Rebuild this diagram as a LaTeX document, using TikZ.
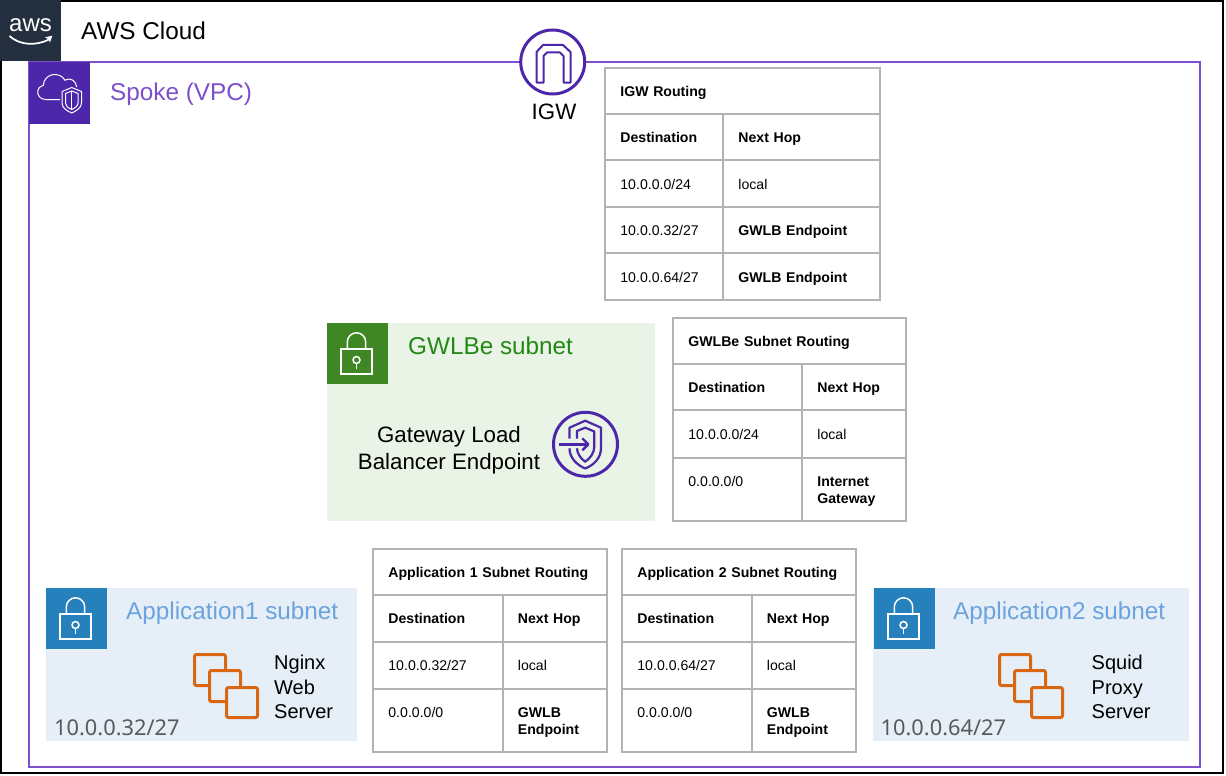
\documentclass[tikz,border=0pt]{standalone}
\usepackage{fontspec}
\setmainfont{Liberation Sans}
\newfontfamily\cidrfont{Noto Sans}
\definecolor{awsdark}{HTML}{232F3E}
\definecolor{vpcpurple}{HTML}{4D27AA}
\definecolor{vpcline}{HTML}{7D4FCB}
\definecolor{gwlbgreen}{HTML}{3F8624}
\definecolor{gwlbtext}{HTML}{248814}
\definecolor{gwlbfill}{HTML}{E9F3E6}
\definecolor{appblue}{HTML}{2580BB}
\definecolor{apptext}{HTML}{6CA3DD}
\definecolor{appfill}{HTML}{E6EFF8}
\definecolor{ec2orange}{HTML}{D86613}
\definecolor{cidrgray}{HTML}{5A5A5A}
\definecolor{tableline}{HTML}{B3B3B3}
\tikzset{
  box/.style 2 args={anchor=north west, outer sep=0pt, inner sep=0pt, minimum width=#1, minimum height=#2},
  cell/.style 2 args={draw=tableline, line width=2pt, anchor=north west, outer sep=0pt, inner xsep=15pt, inner ysep=0pt, text width=#1, minimum height=#2, align=left, text height=11pt, text depth=0pt, xshift=.4pt, font=\fontsize{14.1}{17}\selectfont},
  cellbold/.style={font=\fontsize{14.1}{17}\selectfont\bfseries},
  lastrow/.style={text depth=17pt},
  title/.style={anchor=base west, inner sep=0pt, font=\fontsize{24.3}{28}\selectfont},
  label/.style={anchor=base, inner sep=0pt, font=\fontsize{22.3}{26}\selectfont},
  small/.style={anchor=base west, inner sep=0pt, font=\fontsize{20}{24}\selectfont},
  cidr/.style={anchor=base west, inner sep=0pt, text=cidrgray, font=\cidrfont\fontsize{21.8}{26}\selectfont},
  lockicon/.pic={
    \draw[white, line width=1.5pt] (14,26) rectangle (45,51);
    \draw[white, line width=1.5pt] (20.3,26) -- (20.3,19) arc[start angle=180, end angle=0, x radius=9.2, y radius=-9.2] -- (38.7,26);
    \draw[white, line width=1.5pt] (29.5,37) circle (3.5);
    \draw[white, line width=1.5pt] (29.5,40.5) -- (29.5,46);
  },
  servericon/.pic={
    \draw[ec2orange, line width=3pt, rounded corners=2pt] (31,15) -- (31,0) -- (0,0) -- (0,31) -- (15,31);
    \draw[ec2orange, line width=3pt, rounded corners=2pt] (46,32) -- (46,16) -- (15,16) -- (15,47) -- (31,47);
    \draw[ec2orange, line width=3pt, rounded corners=2pt] (32,33) rectangle (63,63);
  }
}
\begin{document}
\begin{tikzpicture}[x=1pt, y=-1pt]
\useasboundingbox (0,0) rectangle (1226,776);
\node[box={1222pt}{772pt}, draw=black, line width=2pt] (cloud) at (1,1) {};
\node[box={61pt}{61pt}, fill=awsdark] (awslogo) at (0,0) {};
\node[anchor=base, inner sep=0pt, text=white, font=\fontsize{24}{28}\selectfont] (awstext) at (30.5,32) {aws};
\draw[white, line width=1.7pt] (9.5,36) .. controls (20,45.5) and (36,46) .. (49,39.5);
\fill[white] (45,37.3) -- (52.3,35.7) -- (50,42.7) -- (49,39.5) -- cycle;
\node[title, text=black] (cloudtitle) at (81,40) {AWS Cloud};

\node[box={1171pt}{705pt}, draw=vpcline, line width=2pt] (vpc) at (29,62) {};
\node[box={61pt}{62pt}, fill=vpcpurple] (vpcicon) at (29,62) {};
\draw[white, line width=1pt] (60,99.5) -- (46,99.5) .. controls (36,99.5) and (35,87) .. (43.3,85.5) .. controls (44,73) and (60,71) .. (65,80.3) .. controls (71,77) and (76,81) .. (76.7,87);
\draw[white, line width=1pt, fill=vpcpurple] (71.7,87.5) -- (81.5,91.5) -- (81.5,103) .. controls (81.5,108) and (76,111) .. (71.7,113) .. controls (67,111) and (62,108) .. (62,103) -- (62,91.5) -- cycle;
\draw[white, line width=1pt] (71.7,91) -- (78,93.5) -- (78,103) .. controls (78,106) and (75,108) .. (71.7,109.5) .. controls (68,108) and (65.5,106) .. (65.5,103) -- (65.5,93.5) -- cycle;
\draw[white, line width=1pt] (71.7,91) -- (71.7,109.5);
\node[title, text=vpcline] (vpctitle) at (110,100) {Spoke (VPC)};

\node[circle, draw=vpcpurple, fill=white, line width=3pt, minimum size=64pt, inner sep=0pt] (igw) at (552.7,62) {};
\draw[vpcpurple, line width=2pt, line join=round] (536.5,82.5) -- (536.5,52) -- (543,45) -- (563,45) -- (570.5,52) -- (570.5,82.5) -- (563.5,82.5) -- (563.5,56) -- (560,52.5) -- (547,52.5) -- (543.5,56) -- (543.5,82.5) -- cycle;
\node[label] (igwlabel) at (554,119.5) {IGW};

\node[cell={245pt}{46pt}, cellbold] (igwhead) at (605,68) {IGW Routing};
\node[cell={88pt}{46pt}, cellbold] (igwdest) at (605,114) {Destination};
\node[cell={127pt}{46pt}, cellbold] (igwhop) at (723,114) {Next Hop};
\node[cell={88pt}{47pt}] (igwa) at (605,160) {10.0.0.0/24};
\node[cell={127pt}{47pt}] (igwb) at (723,160) {local};
\node[cell={88pt}{46pt}] (igwc) at (605,207) {10.0.0.32/27};
\node[cell={127pt}{46pt}, cellbold] (igwd) at (723,207) {GWLB Endpoint};
\node[cell={88pt}{47pt}] (igwe) at (605,253) {10.0.0.64/27};
\node[cell={127pt}{47pt}, cellbold] (igwf) at (723,253) {GWLB Endpoint};

\node[box={328pt}{198pt}, fill=gwlbfill] (gwlbe) at (327,323) {};
\node[box={61pt}{61pt}, fill=gwlbgreen] (gwlbeicon) at (327,323) {};
\pic at (327,323) {lockicon};
\node[title, text=gwlbtext] (gwlbetitle) at (408,354.5) {GWLBe subnet};
\node[label] (gatewaya) at (449,442) {Gateway Load};
\node[label] (gatewayb) at (449,469) {Balancer Endpoint};
\node[circle, draw=vpcpurple, line width=3pt, minimum size=64pt, inner sep=0pt] (endpoint) at (585.5,444.3) {};
\draw[vpcpurple, line width=2.2pt, line join=round] (569.5,438.5) -- (569.5,427.7) -- (585.2,420.7) -- (601,427.7) -- (601,448) .. controls (601,458) and (594,465) .. (585.2,468.5) .. controls (577,465) and (569.5,458) .. (569.5,448.3);
\draw[vpcpurple, line width=2.2pt, line join=round] (577,438.5) -- (577,431) -- (585.2,427.7) -- (594.3,431.5) -- (594.3,446.7) .. controls (594.3,453) and (590,458.5) .. (585.2,461.7) .. controls (580.5,458.5) and (577,453) .. (577,448.3);
\draw[vpcpurple, line width=2.4pt, line join=round] (559,444.3) -- (588,444.3);
\draw[vpcpurple, line width=2.4pt, line join=round] (582.3,438.3) -- (588.3,444.3) -- (582.3,450.3);

\node[cell={203pt}{46pt}, cellbold] (gwlbehead) at (673,318) {GWLBe Subnet Routing};
\node[cell={99pt}{46pt}, cellbold] (gwlbedest) at (673,364) {Destination};
\node[cell={74pt}{46pt}, cellbold] (gwlbehop) at (802,364) {Next Hop};
\node[cell={99pt}{48pt}] (gwlbea) at (673,410) {10.0.0.0/24};
\node[cell={74pt}{48pt}] (gwlbeb) at (802,410) {local};
\node[cell={99pt}{63pt}, lastrow] (gwlbec) at (673,458) {0.0.0.0/0};
\node[cell={74pt}{63pt}, lastrow, cellbold] (gwlbed) at (802,458) {Internet Gateway};

\node[box={311pt}{153pt}, fill=appfill] (appone) at (46,588) {};
\node[box={61pt}{61pt}, fill=appblue] (apponeicon) at (46,588) {};
\pic at (46,588) {lockicon};
\node[title, text=apptext] (apponetitle) at (126,619.5) {Application1 subnet};
\pic at (194.5,654.5) {servericon};
\node[small] (nginx) at (274,669.5) {Nginx};
\node[small] (nginxb) at (274,694.5) {Web};
\node[small] (nginxc) at (274,718.5) {Server};
\node[cidr] (apponecidr) at (54,735) {10.0.0.32/27};

\node[cell={204pt}{46pt}, cellbold] (onehead) at (373,549) {Application 1 Subnet Routing};
\node[cell={100pt}{46.5pt}, cellbold] (onedest) at (373,595) {Destination};
\node[cell={74pt}{46.5pt}, cellbold] (onehop) at (502.5,595) {Next Hop};
\node[cell={100pt}{47pt}] (onea) at (373,641.5) {10.0.0.32/27};
\node[cell={74pt}{47pt}] (oneb) at (502.5,641.5) {local};
\node[cell={100pt}{63pt}, lastrow] (onec) at (373,688.5) {0.0.0.0/0};
\node[cell={74pt}{63pt}, lastrow, cellbold] (oned) at (502.5,688.5) {GWLB Endpoint};

\node[cell={204pt}{46pt}, cellbold] (twohead) at (622,549) {Application 2 Subnet Routing};
\node[cell={100pt}{46.5pt}, cellbold] (twodest) at (622,595) {Destination};
\node[cell={74pt}{46.5pt}, cellbold] (twohop) at (751.5,595) {Next Hop};
\node[cell={100pt}{47pt}] (twoa) at (622,641.5) {10.0.0.64/27};
\node[cell={74pt}{47pt}] (twob) at (751.5,641.5) {local};
\node[cell={100pt}{63pt}, lastrow] (twoc) at (622,688.5) {0.0.0.0/0};
\node[cell={74pt}{63pt}, lastrow, cellbold] (twod) at (751.5,688.5) {GWLB Endpoint};

\node[box={316pt}{153pt}, fill=appfill] (apptwo) at (873,588) {};
\node[box={61pt}{61pt}, fill=appblue] (apptwoicon) at (874,588) {};
\pic at (874,588) {lockicon};
\node[title, text=apptext] (apptwotitle) at (953,619.5) {Application2 subnet};
\pic at (999.5,654.5) {servericon};
\node[small] (squid) at (1091.5,669.5) {Squid};
\node[small] (squidb) at (1091.5,694.5) {Proxy};
\node[small] (squidc) at (1091.5,718.5) {Server};
\node[cidr] (apptwocidr) at (880.5,735) {10.0.0.64/27};
\end{tikzpicture}
\end{document}
